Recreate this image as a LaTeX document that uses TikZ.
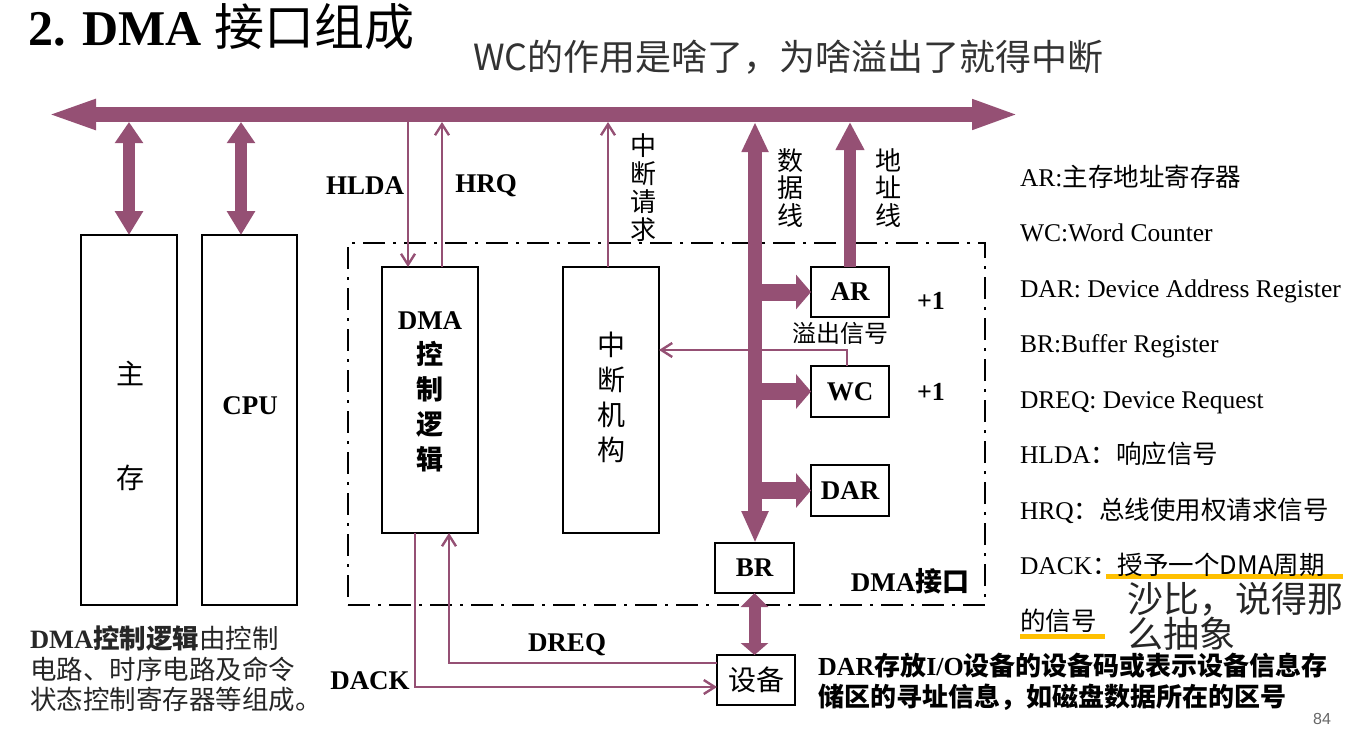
\documentclass[tikz,border=0pt]{standalone}
\usepackage{fontspec}
\setmainfont{Liberation Serif}
\newfontfamily\zhf{Noto Sans CJK SC}
\newfontfamily\pgnumf{Liberation Sans}
\usetikzlibrary{arrows.meta,calc}
\definecolor{dmapurple}{RGB}{149,80,116}
\definecolor{hiyellow}{RGB}{255,192,0}
\newcommand\zh[1]{{\zhf #1}}
\newcommand\fs[1]{\fontsize{#1pt}{#1pt}\selectfont}
\newcommand\fsl[2]{\fontsize{#1pt}{#2pt}\selectfont}
\begin{document}
\begin{tikzpicture}[x=1pt,y=-1pt,
  box/.style={draw=black, line width=2.6pt, inner sep=0pt, outer sep=0pt},
  lab/.style={inner sep=0pt, outer sep=0pt},
  fat/.style={draw=dmapurple, line width=#1},
  sigline/.style={draw=dmapurple, line width=2.4pt},
  sigarr/.style={sigline, -{Straight Barb[length=11pt,width=14pt]}},
  bl/.style={font=\bfseries\fs{27}},
  legend/.style={lab, anchor=base west, font=\fs{25.5}},
]
\useasboundingbox (0,0) rectangle (1348,728);

% title
\node[lab, anchor=base west, font=\bfseries\fs{50}] (title) at (28,45) {2. DMA \zh{\mdseries 接口组成}};
\node[lab, anchor=base west, font=\zhf\fs{36}, text=black!80] (note) at (473,70) {WC的作用是啥了，为啥溢出了就得中断};

% interface frame
\node[draw=black, line width=2.4pt, dash pattern=on 22pt off 8pt on 3pt off 8pt,
      minimum width=637pt, minimum height=362pt, inner sep=0pt] (iface) at (666.5,424) {};

% boxes
\node[box, minimum width=96pt, minimum height=370pt] (mem) at (129,420) {};
\node[box, minimum width=95pt, minimum height=370pt] (cpu) at (249.5,420) {};
\node[box, minimum width=96pt, minimum height=266pt] (dma) at (430,400) {};
\node[box, minimum width=96pt, minimum height=266pt] (intr) at (611,400) {};
\node[box, bl, minimum width=78pt, minimum height=50pt] (ar) at (850,292) {AR};
\node[box, bl, minimum width=78pt, minimum height=51pt] (wc) at (850,391.5) {WC};
\node[box, bl, minimum width=78pt, minimum height=51pt] (dar) at (850,490.5) {DAR};
\node[box, bl, minimum width=79pt, minimum height=50pt] (br) at (754.5,568) {BR};
\node[box, font=\zhf\fs{28}, minimum width=78pt, minimum height=50pt] (dev) at (756,680) {设备};

% system bus
\coordinate (bL) at (46,114.5);
\coordinate (bR) at (1020,114.5);
\draw[fat=15pt, {Triangle[length=50pt,width=27pt]}-{Triangle[length=48pt,width=27pt]}] (bL) -- (bR);
\coordinate (bb) at (0,122);

% memory / cpu links
\coordinate (ma) at (129,122);
\coordinate (ca) at (241,122);
\draw[fat=12pt, {Triangle[length=21pt,width=27pt]}-{Triangle[length=24pt,width=27pt]}] (ma) -- (ma |- mem.north);
\draw[fat=12pt, {Triangle[length=21pt,width=27pt]}-{Triangle[length=24pt,width=27pt]}] (ca) -- (ca |- cpu.north);

% data bus
\coordinate (db) at (755,122);
\draw[fat=14pt, {Triangle[length=30pt,width=25pt]}-{Triangle[length=32pt,width=25pt]}] (db) -- (db |- br.north);
\draw[fat=17pt, -{Triangle[length=15pt,width=34pt]}] (ar.west -| db) -- (ar.west);
\draw[fat=17pt, -{Triangle[length=15pt,width=34pt]}] (wc.west -| db) -- (wc.west);
\draw[fat=17pt, -{Triangle[length=15pt,width=34pt]}] (dar.west -| db) -- (dar.west);

% address line
\coordinate (ad) at (850,122);
\draw[fat=12pt, -{Triangle[length=28pt,width=27pt]}] (ad |- ar.north) -- (ad);

% BR <-> device
\draw[fat=12pt, {Triangle[length=14pt,width=27pt]}-{Triangle[length=12pt,width=27pt]}] (br.south) -- (br.south |- dev.north);

% signal lines
\coordinate (hl) at (408,122);
\coordinate (hr) at (442,122);
\coordinate (ir) at (608,122);
\coordinate (ov) at (847,350);
\coordinate (dk) at (415,687);
\coordinate (dq) at (449,663);
\draw[sigarr] (hl) -- (hl |- dma.north);
\draw[sigarr] (hr |- dma.north) -- (hr);
\draw[sigarr] (ir |- intr.north) -- (ir);
\draw[sigarr] (ov |- wc.north) -- (ov) -- (ov -| intr.east);
\draw[sigarr] (dk |- dma.south) -- (dk) -- (dk -| dev.west);
\draw[sigarr] (dq -| dev.west) -- (dq) -- (dq |- dma.south);

% labels inside / around
\node[lab, font={\zhf\fsl{28}{104}}, align=center] (memT) at (130,426) {主\\存};
\node[lab, bl] (cpuT) at (250,406) {CPU};
\node[lab, font={\bfseries\fsl{27}{35}}, align=center] (dmaT) at (430,392)
  {DMA\\\zh{控}\\\zh{制}\\\zh{逻}\\\zh{辑}};
\node[lab, font={\zhf\fsl{28}{35}}, align=center] (intrT) at (611,397) {中\\断\\机\\构};
\node[lab, bl] (hldaT) at (365,186) {HLDA};
\node[lab, bl] (hrqT) at (486,186) {HRQ};
\node[lab, bl] (dackT) at (370,681) {DACK};
\node[lab, bl] (dreqT) at (567,645) {DREQ};
\node[lab, font={\zhf\fsl{26}{28}}, align=center] (irqT) at (643,188) {中\\断\\请\\求};
\node[lab, font={\zhf\fsl{26}{27.5}}, align=center] (dataT) at (790,188) {数\\据\\线};
\node[lab, font={\zhf\fsl{26}{27.5}}, align=center] (addrT) at (888,188) {地\\址\\线};
\node[lab, font=\bfseries\fs{26}] (p1) at (931,301) {+1};
\node[lab, font=\bfseries\fs{26}] (p2) at (931,392) {+1};
\node[lab, font=\zhf\fs{24}] (ovT) at (840,333) {溢出信号};
\node[lab, bl] (ifaceT) at (910,581) {DMA\zh{接口}};

% bottom-left note
\node[lab, anchor=base west, font=\fs{26.5}, text=black!85] (n1) at (30,648) {\textbf{DMA\zh{控制逻辑}}\zh{由控制}};
\node[lab, anchor=base west, font=\zhf\fs{26.5}, text=black!85] (n2) at (30,679) {电路、时序电路及命令};
\node[lab, anchor=base west, font=\zhf\fs{26.5}, text=black!85] (n3) at (30,709) {状态控制寄存器等组成。};

% bottom-right note
\node[lab, anchor=base west, font=\bfseries\fs{26}] (d1) at (818,675) {DAR\zh{存放}I/O\zh{设备的设备码或表示设备信息存}};
\node[lab, anchor=base west, font=\bfseries\fs{26}] (d2) at (818,706) {\zh{储区的寻址信息，如磁盘数据所在的区号}};

% legend
\draw[hiyellow, line width=5pt] (1106,576) -- (1343,576);
\draw[hiyellow, line width=5pt] (1020,636) -- (1105,636);
\node[legend] (g1) at (1020,186) {AR:\zh{主存地址寄存器}};
\node[legend] (g2) at (1020,241.5) {WC:Word Counter};
\node[legend] (g3) at (1020,297) {DAR: Device Address Register};
\node[legend] (g4) at (1020,352.5) {BR:Buffer Register};
\node[legend] (g5) at (1020,408) {DREQ: Device Request};
\node[legend] (g6) at (1020,463.5) {HLDA\zh{：}\zh{响应信号}};
\node[legend] (g7) at (1020,519) {HRQ\zh{：}\zh{总线使用权请求信号}};
\node[legend] (g8) at (1020,574.5) {DACK\zh{：授予一个DMA周期}};
\node[legend] (g9) at (1020,630) {\zh{的信号}};

\node[lab, anchor=base west, font=\zhf\fs{36}, text=black!85] (c1) at (1127,612) {沙比，说得那};
\node[lab, anchor=base west, font=\zhf\fs{36}, text=black!85] (c2) at (1127,647) {么抽象};

\node[lab, font=\pgnumf\fs{16}, text=black!60] (pg) at (1322,719) {84};
\end{tikzpicture}
\end{document}
